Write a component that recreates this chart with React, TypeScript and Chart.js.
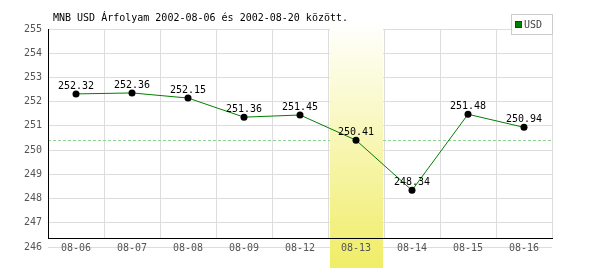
import React, { useEffect, useRef } from "react";
import { Chart, registerables } from "chart.js";

Chart.register(...registerables);

const titleText = "MNB USD Árfolyam 2002-08-06 és 2002-08-20 között.";
const seriesName = "USD";
const categories = ["08-06", "08-07", "08-08", "08-09", "08-12", "08-13", "08-14", "08-15", "08-16"];
const usdRates = [252.32, 252.36, 252.15, 251.36, 251.45, 250.41, 248.34, 251.48, 250.94];
const yMin = 246;
const yMax = 255;
const yStep = 1;
const highlightCategory = "08-13";
const referenceRate = 250.41;

const MONO = "'DejaVu Sans Mono', monospace";

const decorPlugin = {
  id: "decor",
  beforeDatasetsDraw(chart: any) {
    const { ctx, chartArea: a, scales } = chart;
    const x = scales.x;
    const y = scales.y;
    const half = (x.getPixelForValue(1) - x.getPixelForValue(0)) / 2;
    const axisBottom = a.bottom - 9;
    ctx.save();
    // vertical grid lines
    ctx.strokeStyle = "#dddddd";
    ctx.lineWidth = 1;
    for (let i = 0; i < categories.length; i++) {
      const bx = Math.round(x.getPixelForValue(i) + half) + 0.5;
      ctx.beginPath();
      ctx.moveTo(bx, a.top);
      ctx.lineTo(bx, axisBottom);
      ctx.stroke();
    }
    // dashed reference line
    const ry = Math.round(y.getPixelForValue(referenceRate)) + 0.5;
    ctx.strokeStyle = "#8fd48f";
    ctx.setLineDash([3, 2]);
    ctx.beginPath();
    ctx.moveTo(a.left, ry);
    ctx.lineTo(a.right, ry);
    ctx.stroke();
    ctx.setLineDash([]);
    // highlight column
    const hi = categories.indexOf(highlightCategory);
    if (hi >= 0) {
      const cx = x.getPixelForValue(hi);
      const left = Math.round(cx - half) + 2;
      const right = Math.round(cx + half) - 1;
      const top = a.top - 7;
      const bottom = a.bottom + 21;
      const g = ctx.createLinearGradient(0, top, 0, bottom);
      g.addColorStop(0, "#ffffff");
      g.addColorStop(1, "#f0ed66");
      ctx.fillStyle = g;
      ctx.fillRect(left, top, right - left, bottom - top);
    }
    // black axes
    ctx.strokeStyle = "#000000";
    ctx.beginPath();
    ctx.moveTo(a.left + 0.5, a.top);
    ctx.lineTo(a.left + 0.5, axisBottom + 1);
    ctx.moveTo(a.left, axisBottom + 0.5);
    ctx.lineTo(a.right + 1, axisBottom + 0.5);
    ctx.stroke();
    ctx.restore();
  },
  afterDatasetsDraw(chart: any) {
    const { ctx } = chart;
    const meta = chart.getDatasetMeta(0);
    ctx.save();
    ctx.font = `10px ${MONO}`;
    ctx.fillStyle = "#000000";
    ctx.textAlign = "center";
    ctx.textBaseline = "alphabetic";
    meta.data.forEach((pt: any, i: number) => {
      ctx.fillText(usdRates[i].toFixed(2), pt.x, pt.y - 5);
    });
    ctx.restore();
  },
  afterDraw(chart: any) {
    const { ctx } = chart;
    ctx.save();
    // title
    ctx.font = `10px ${MONO}`;
    ctx.fillStyle = "#000000";
    ctx.textAlign = "left";
    ctx.textBaseline = "alphabetic";
    ctx.fillText(titleText, 53, 21);
    // legend
    ctx.fillStyle = "#ffffff";
    ctx.fillRect(511, 14, 42, 21);
    ctx.strokeStyle = "#cccccc";
    ctx.lineWidth = 1;
    ctx.strokeRect(511.5, 14.5, 41, 20);
    ctx.fillStyle = "#008000";
    ctx.fillRect(515, 21, 7, 7);
    ctx.strokeStyle = "#333333";
    ctx.strokeRect(515.5, 21.5, 6, 6);
    ctx.fillStyle = "#444444";
    ctx.fillText(seriesName, 524, 28);
    ctx.restore();
  },
};

export default function App() {
  const canvasRef = useRef<HTMLCanvasElement | null>(null);

  useEffect(() => {
    const canvas = canvasRef.current;
    if (!canvas) return;
    const chart = new Chart(canvas, {
      type: "line",
      data: {
        labels: categories,
        datasets: [
          {
            label: seriesName,
            data: usdRates,
            borderColor: "#007f00",
            borderWidth: 1,
            pointRadius: 3.5,
            pointHoverRadius: 3.5,
            pointBackgroundColor: "#000000",
            pointBorderWidth: 0,
            tension: 0,
            fill: false,
            clip: false as any,
          },
        ],
      },
      options: {
        animation: false,
        responsive: false,
        maintainAspectRatio: false,
        events: [],
        layout: { padding: { top: 29, right: 48, left: 0, bottom: 0 } },
        plugins: {
          legend: { display: false },
          title: { display: false },
          tooltip: { enabled: false },
        },
        scales: {
          x: {
            type: "category",
            offset: true,
            grid: { display: false, drawTicks: false },
            border: { display: false },
            ticks: {
              z: 1,
              color: "#555555",
              font: { family: MONO, size: 10 },
              padding: -5,
              maxRotation: 0,
              autoSkip: false,
            },
            afterFit(s: any) {
              s.height = 23;
              s._computeLabelArea = () => undefined;
            },
          },
          y: {
            min: yMin,
            max: yMax,
            ticks: {
              stepSize: yStep,
              color: "#555555",
              font: { family: MONO, size: 10 },
              padding: 6,
            },
            grid: { color: "#dddddd", drawTicks: false },
            border: { display: false },
            afterFit(s: any) {
              s.width = 48;
            },
          },
        },
      },
      plugins: [decorPlugin],
    });
    return () => chart.destroy();
  }, []);

  return (
    <div style={{ position: "fixed", left: 0, top: 0, width: 600, height: 270, background: "#ffffff" }}>
      <canvas ref={canvasRef} width={600} height={270} style={{ width: 600, height: 270 }} />
    </div>
  );
}
